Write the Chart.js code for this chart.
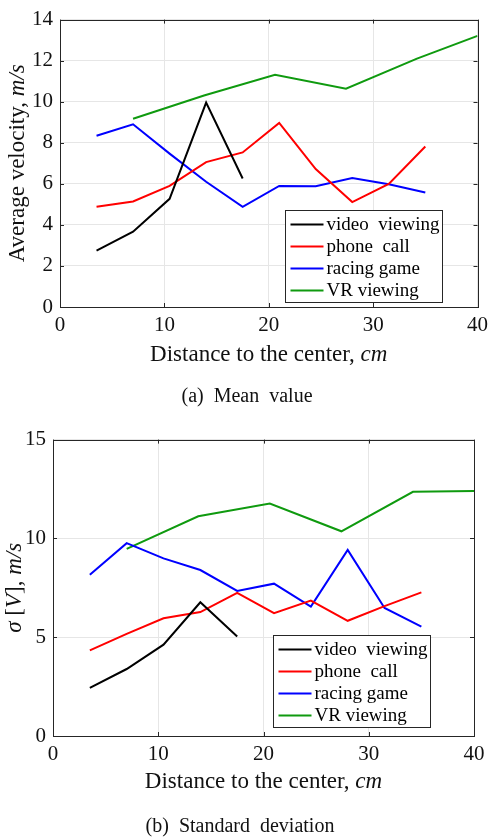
<!DOCTYPE html>
<html>
<head>
<meta charset="utf-8">
<script src="https://cdn.jsdelivr.net/npm/chart.js@4.4.1/dist/chart.umd.min.js"></script>
<style>
  body { margin: 0; background: #fff; width: 494px; height: 840px; position: relative; overflow: hidden; }
  .wrap { position: absolute; left: 0; }
</style>
</head>
<body>
<div class="wrap" style="top:0"><canvas id="meanChart" width="494" height="420"></canvas></div>
<div class="wrap" style="top:420px"><canvas id="sdChart" width="494" height="420"></canvas></div>
<script>
// distances (cm)
const distance = [3.5, 7, 10.5, 14, 17.5, 21, 24.5, 28, 31.5, 35];
const distanceVideo = [3.5, 7, 10.5, 14, 17.5];
const distanceVR = [7, 13.8, 20.6, 27.4, 34.2, 40];

// (a) mean value, m/s
const meanVideo = [2.75, 3.67, 5.27, 9.96, 6.26];
const meanPhone = [4.88, 5.14, 5.9, 7.06, 7.53, 8.97, 6.72, 5.11, 6.0, 7.82];
const meanRacing = [8.34, 8.9, 7.47, 6.1, 4.88, 5.9, 5.88, 6.28, 5.98, 5.58];
const meanVR = [9.17, 10.3, 11.31, 10.63, 12.1, 13.21];

// (b) standard deviation, m/s
const sdVideo = [2.44, 3.39, 4.62, 6.77, 5.04];
const sdPhone = [4.33, 5.17, 5.96, 6.27, 7.24, 6.22, 6.85, 5.83, 6.57, 7.27];
const sdRacing = [8.16, 9.76, 8.99, 8.4, 7.34, 7.71, 6.55, 9.42, 6.48, 5.54];
const sdVR = [9.47, 11.12, 11.76, 10.36, 12.36, 12.4];

const xTicks = [0, 10, 20, 30, 40];
const meanTicks = [0, 2, 4, 6, 8, 10, 12, 14];
const sdTicks = [0, 5, 10, 15];

const seriesNames = ['video  viewing', 'phone  call', 'racing game', 'VR viewing'];
const seriesColors = ['#000000', '#ff0000', '#0000ff', '#0f9a0f'];

const axisColor = '#262626';
const serif = "'Liberation Serif', 'Times New Roman', serif";

const pts = (xs, ys) => ys.map((y, i) => ({ x: xs[i], y: y }));

// box around the plot + inward tick marks
const frame = {
  id: 'frame',
  beforeDatasetsDraw(chart) {
    const { ctx, chartArea: a, scales } = chart;
    ctx.save();
    ctx.strokeStyle = axisColor;
    ctx.lineWidth = 1;
    ctx.strokeRect(Math.round(a.left) + 0.5, Math.round(a.top) + 0.5, Math.round(a.right - a.left), Math.round(a.bottom - a.top));
    ctx.beginPath();
    scales.x.ticks.forEach(t => {
      const px = Math.round(scales.x.getPixelForValue(t.value)) + 0.5;
      ctx.moveTo(px, a.bottom); ctx.lineTo(px, a.bottom - 4);
      ctx.moveTo(px, a.top); ctx.lineTo(px, a.top + 4);
    });
    scales.y.ticks.forEach(t => {
      const py = Math.round(scales.y.getPixelForValue(t.value)) + 0.5;
      ctx.moveTo(a.left, py); ctx.lineTo(a.left + 4, py);
      ctx.moveTo(a.right, py); ctx.lineTo(a.right - 4, py);
    });
    ctx.stroke();
    ctx.restore();
  }
};

// legend box inside the plot, lower right
const boxLegend = {
  id: 'boxLegend',
  afterDatasetsDraw(chart, args, opts) {
    const { ctx, chartArea: a } = chart;
    const w = 157, h = 92;
    const left = Math.round(a.right - opts.right - w) + 0.5;
    const top = Math.round(a.bottom - opts.bottom - h) + 0.5;
    ctx.save();
    ctx.fillStyle = '#fff';
    ctx.fillRect(left, top, w, h);
    ctx.strokeStyle = axisColor;
    ctx.lineWidth = 1;
    ctx.strokeRect(left, top, w, h);
    ctx.font = '19px ' + serif;
    ctx.textBaseline = 'middle';
    chart.data.datasets.forEach((ds, i) => {
      const y = top + 14 + 22 * i;
      ctx.strokeStyle = ds.borderColor;
      ctx.lineWidth = 2;
      ctx.beginPath();
      ctx.moveTo(left + 5, y); ctx.lineTo(left + 38, y);
      ctx.stroke();
      ctx.fillStyle = '#000';
      ctx.fillText(ds.label, left + 41, y + 1);
    });
    ctx.restore();
  }
};

// axis titles with mixed upright/italic pieces, plus the sub-figure caption
function drawPieces(ctx, pieces, size) {
  let total = 0;
  pieces.forEach(p => { ctx.font = (p[1] ? 'italic ' : '') + size + 'px ' + serif; total += ctx.measureText(p[0]).width; });
  let x = -total / 2;
  pieces.forEach(p => {
    ctx.font = (p[1] ? 'italic ' : '') + size + 'px ' + serif;
    ctx.fillText(p[0], x, 0);
    x += ctx.measureText(p[0]).width;
  });
}
const axisTitles = {
  id: 'axisTitles',
  afterDraw(chart, args, opts) {
    const { ctx, chartArea: a } = chart;
    ctx.save();
    ctx.fillStyle = '#111';
    ctx.textBaseline = 'middle';
    ctx.textAlign = 'left';
    ctx.save();
    ctx.translate((a.left + a.right) / 2, a.bottom + opts.xOffset);
    drawPieces(ctx, opts.x, 23);
    ctx.restore();
    ctx.save();
    ctx.translate(opts.yX, (a.top + a.bottom) / 2);
    ctx.rotate(-Math.PI / 2);
    drawPieces(ctx, opts.y, 23);
    ctx.restore();
    ctx.save();
    ctx.translate(opts.capX, opts.capY);
    drawPieces(ctx, opts.caption, 20);
    ctx.restore();
    ctx.restore();
  }
};

function makeChart(id, cfg) {
  const datasets = cfg.values.map((vals, i) => ({
    label: seriesNames[i],
    data: pts(cfg.xs[i], vals),
    borderColor: seriesColors[i],
    backgroundColor: seriesColors[i],
    borderWidth: 2,
    pointRadius: 0,
    tension: 0,
    fill: false
  }));
  const tickFont = { family: serif, size: 21 };
  return new Chart(document.getElementById(id), {
    type: 'line',
    data: { datasets: datasets },
    options: {
      responsive: false,
      animation: false,
      layout: { padding: cfg.pad },
      plugins: {
        legend: { display: false },
        tooltip: { enabled: false },
        boxLegend: cfg.legend,
        axisTitles: cfg.titles
      },
      scales: {
        x: {
          type: 'linear', min: 0, max: 40,
          afterBuildTicks: s => { s.ticks = xTicks.map(v => ({ value: v })); },
          afterFit: s => { s.height = cfg.xHeight; },
          grid: { color: '#e6e6e6', drawTicks: false },
          border: { display: false },
          ticks: { font: tickFont, color: '#111', padding: 6, maxRotation: 0 }
        },
        y: {
          type: 'linear', min: cfg.yMin, max: cfg.yMax,
          afterBuildTicks: s => { s.ticks = cfg.yTicks.map(v => ({ value: v })); },
          afterFit: s => { s.width = cfg.yWidth; },
          grid: { color: '#e6e6e6', drawTicks: false },
          border: { display: false },
          ticks: { font: tickFont, color: '#111', padding: 7 }
        }
      }
    },
    plugins: [frame, boxLegend, axisTitles]
  });
}

makeChart('meanChart', {
  xs: [distanceVideo, distance, distance, distanceVR],
  values: [meanVideo, meanPhone, meanRacing, meanVR],
  yMin: 0, yMax: 14, yTicks: meanTicks,
  pad: { left: 0, right: 13, top: 10, bottom: 48 },
  yWidth: 60, xHeight: 65,
  legend: { right: 36, bottom: 5 },
  titles: {
    x: [['Distance to the center, ', false], ['cm', true]],
    y: [['Average velocity, ', false], ['m/s', true]],
    xOffset: 48, yX: 18,
    caption: [['(a)  Mean  value', false]], capX: 247, capY: 397
  }
});

makeChart('sdChart', {
  xs: [distanceVideo, distance, distance, distanceVR],
  values: [sdVideo, sdPhone, sdRacing, sdVR],
  yMin: 0, yMax: 15, yTicks: sdTicks,
  pad: { left: 0, right: 20, top: 18, bottom: 40 },
  yWidth: 53, xHeight: 64,
  legend: { right: 44, bottom: 9 },
  titles: {
    x: [['Distance to the center, ', false], ['cm', true]],
    y: [['\u03C3', true], [' [', false], ['V', true], ['], ', false], ['m/s', true]],
    xOffset: 46, yX: 15,
    caption: [['(b)  Standard  deviation', false]], capX: 240, capY: 407
  }
});
</script>
</body>
</html>
